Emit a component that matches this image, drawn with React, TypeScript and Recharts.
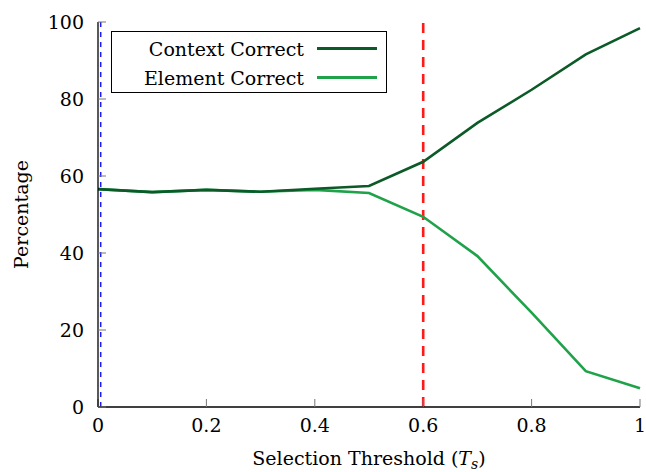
import { LineChart, Line, XAxis, YAxis, ReferenceLine } from "recharts";

const thresholds = [0, 0.1, 0.2, 0.3, 0.4, 0.5, 0.6, 0.7, 0.8, 0.9, 1];
const contextCorrect = [56.6, 55.8, 56.4, 55.9, 56.7, 57.4, 63.7, 73.8, 82.4, 91.6, 98.4];
const elementCorrect = [56.6, 55.8, 56.4, 55.9, 56.4, 55.6, 49.4, 39.2, 24.5, 9.3, 4.9];
const xTicks = [0, 0.2, 0.4, 0.6, 0.8, 1];
const yTicks = [0, 20, 40, 60, 80, 100];

const data = thresholds.map((t, i) => ({
  t,
  context: contextCorrect[i],
  element: elementCorrect[i],
}));

const FONT = "DejaVu Serif, Liberation Serif, serif";
const DARK = "#0b5a27";
const LIGHT = "#1fa24a";

const LegendBox = () => (
  <div
    style={{
      position: "absolute",
      left: 111,
      top: 31,
      border: "1px solid #000",
      background: "#fff",
      width: 276,
      height: 62,
      boxSizing: "border-box",
      fontFamily: FONT,
      fontSize: 19,
      padding: "2px 0 0 0",
    }}
  >
    {[
      ["Context Correct", DARK],
      ["Element Correct", LIGHT],
    ].map(([name, color]) => (
      <div key={name} style={{ display: "flex", alignItems: "center", height: 29 }}>
        <span style={{ width: 192, textAlign: "right", whiteSpace: "nowrap" }}>{name}</span>
        <span style={{ display: "inline-block", marginLeft: 13, width: 60, height: 3, background: color }} />
      </div>
    ))}
  </div>
);

const fmt = (v: number) => String(v);

export default function App() {
  return (
    <div style={{ position: "absolute", left: 0, top: 0, background: "#fff" }}>
      <LineChart width={646} height={472} data={data} margin={{ top: 22, right: 6, bottom: 0, left: 38 }}>
        <XAxis
          dataKey="t"
          type="number"
          domain={[0, 1]}
          ticks={xTicks}
          tickFormatter={fmt}
          tickSize={-8}
          tickMargin={20}
          height={65}
          axisLine={{ stroke: "#000", strokeWidth: 1.3 }}
          tickLine={{ stroke: "#777" }}
          tick={{ fill: "#000", fontFamily: FONT, fontSize: 19 }}
          label={({ viewBox }: any) => (
            <text
              x={viewBox.x + viewBox.width / 2}
              y={465}
              textAnchor="middle"
              fontFamily={FONT}
              fontSize={19}
              fill="#000"
            >
              Selection Threshold (<tspan fontStyle="italic">T</tspan>
              <tspan fontStyle="italic" fontSize={14} dy={4}>s</tspan>
              <tspan dy={-4}>)</tspan>
            </text>
          )}
        />
        <XAxis
          xAxisId="top"
          orientation="top"
          dataKey="t"
          type="number"
          domain={[0, 1]}
          ticks={xTicks}
          tickFormatter={() => ""}
          tickSize={-8}
          height={0}
          axisLine={{ stroke: "#000", strokeWidth: 1.3 }}
          tickLine={{ stroke: "#777" }}
        />
        <YAxis
          domain={[0, 100]}
          ticks={yTicks}
          tickSize={-8}
          tickMargin={22}
          width={60}
          axisLine={{ stroke: "#000", strokeWidth: 1.3 }}
          tickLine={{ stroke: "#777" }}
          tick={{ fill: "#000", fontFamily: FONT, fontSize: 19 }}
          label={({ viewBox }: any) => (
            <text
              x={28}
              y={viewBox.y + viewBox.height / 2}
              textAnchor="middle"
              fontFamily={FONT}
              fontSize={19}
              fill="#000"
              transform={`rotate(-90, 28, ${viewBox.y + viewBox.height / 2})`}
            >
              Percentage
            </text>
          )}
        />
        <YAxis
          yAxisId="right"
          orientation="right"
          domain={[0, 100]}
          ticks={yTicks}
          tickFormatter={() => ""}
          tickSize={-8}
          width={0}
          axisLine={{ stroke: "#000", strokeWidth: 1.3 }}
          tickLine={{ stroke: "#777" }}
        />
        <ReferenceLine x={0.005} stroke="#1a1aff" strokeWidth={1.5} strokeDasharray="5 5" />
        <ReferenceLine x={0.6} stroke="#ff1a1a" strokeWidth={2.6} strokeDasharray="10 7" />
        <Line dataKey="element" stroke={LIGHT} strokeWidth={2.6} dot={false} isAnimationActive={false} />
        <Line dataKey="context" stroke={DARK} strokeWidth={2.6} dot={false} isAnimationActive={false} />
      </LineChart>
      <LegendBox />
    </div>
  );
}
